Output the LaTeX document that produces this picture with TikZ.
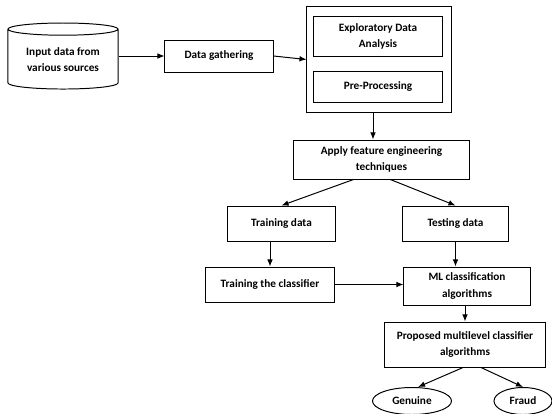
\documentclass[tikz,border=0pt]{standalone}
\usepackage{fontspec}
\setmainfont{Carlito}
\usetikzlibrary{positioning, arrows.meta, shapes.geometric}

\begin{document}
\begin{tikzpicture}[x=0.025cm, y=-0.025cm,
    box/.style={draw, line width=0.7pt, align=center, inner sep=1pt, font=\fontsize{8}{11.4}\selectfont\bfseries},
    flow/.style={-{Latex[length=5pt, width=4pt]}, line width=0.7pt}]
    \useasboundingbox (0,0) rectangle (552,414);
    \node (Source) [box, cylinder, shape border rotate=90, aspect=0.16, minimum width=2.75cm, minimum height=1.65cm] at (63,60) {Input data from\\various sources};
    \node (Gather) [box, minimum width=2.7cm, minimum height=0.8cm] at (219,56) {Data gathering};
    \node (Outer) [box, minimum width=3.6cm, minimum height=2.625cm] at (379,59.5) {};
    \node (EDA) [box, minimum width=3.2cm, minimum height=1cm] at (378,36) {Exploratory Data\\Analysis};
    \node (Prep) [box, minimum width=3.2cm, minimum height=0.775cm] at (378,86.5) {Pre-Processing};
    \node (Feature) [box, minimum width=4.375cm, minimum height=0.975cm] at (381.5,159.5) {Apply feature engineering\\techniques};
    \node (TrainData) [box, minimum width=2.675cm, minimum height=0.875cm] at (281.5,223.5) {Training data};
    \node (TestData) [box, minimum width=2.625cm, minimum height=0.875cm] at (455.5,223.5) {Testing data};
    \node (TrainClf) [box, minimum width=3.2cm, minimum height=0.875cm] at (270,284.5) {Training the classifier};
    \node (ML) [box, minimum width=3.15cm, minimum height=0.95cm] at (467,286) {ML classification\\algorithms};
    \node (Multi) [box, minimum width=4cm, minimum height=1.125cm] at (465,344.5) {Proposed multilevel classifier\\algorithms};
    \node (Genuine) [box, ellipse, inner sep=0pt, minimum width=1.975cm, minimum height=0.675cm] at (412,401) {Genuine};
    \node (Fraud) [box, ellipse, inner sep=0pt, minimum width=1.45cm, minimum height=0.675cm] at (523,401) {Fraud};
    \draw [flow] (Gather.west -| Source.east) -- (Gather.west);
    \draw [flow] (Gather.east) -- (Outer.west);
    \draw [flow] ([xshift=-0.15cm]Outer.south) -- ([xshift=-0.15cm]Outer.south |- Feature.north);
    \draw [flow] ([xshift=-0.7cm]Feature.south) -- (TrainData.north);
    \draw [flow] ([xshift=0.22cm]Feature.south) -- (TestData.north);
    \draw [flow] (TrainData.south -| TrainClf.north) -- (TrainClf.north);
    \draw [flow] (TestData.south) -- (TestData.south |- ML.north);
    \draw [flow] (TrainClf.east) -- (TrainClf.east -| ML.west);
    \draw [flow] (ML.south -| Multi.north) -- (Multi.north);
    \draw [flow] ([xshift=-0.05cm]Multi.south) -- ([xshift=0.15cm]Genuine.north);
    \draw [flow] ([xshift=0.4cm]Multi.south) -- (Fraud.north); % two outcomes
\end{tikzpicture}
\end{document}
